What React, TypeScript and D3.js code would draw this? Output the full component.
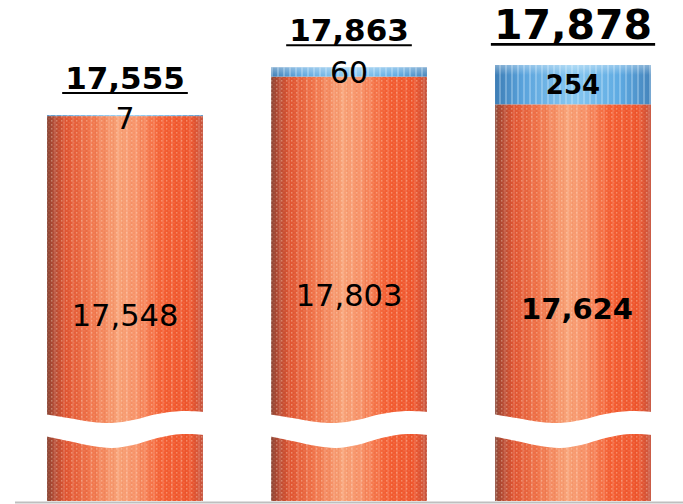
import React from "react";
import * as d3 from "d3";

// ---- data ----
const categories = ["Period 1", "Period 2", "Period 3"];
const baseValues = [17548, 17803, 17624];
const addValues = [7, 60, 254];
const totalValues = [17555, 17863, 17878];

// ---- styling per bar (not data) ----
const totalFontSizes = [31, 31, 41];
const boldSegments = [false, false, true];

const W = 683;
const H = 504;
const BASE_Y = 501;

const fmt = d3.format(",");

// approximate width of DejaVu Sans Bold digits/comma
const textWidth = (s: string, size: number) =>
  s.split("").reduce((a, c) => a + (c === "," ? 0.38 : 0.696) * size, 0);

export default function App() {
  const x = d3
    .scaleBand<string>()
    .domain(categories)
    .range([13, 685])
    .paddingInner(0.304)
    .paddingOuter(0.152);

  const y = d3.scaleLinear().domain([15062, 17878]).range([BASE_Y, 65]);

  const bw = x.bandwidth();

  // wavy break decoration (relative position across the bar)
  const breakT = [0, 0.15, 0.3, 0.42, 0.55, 0.7, 0.85, 1];
  const breakTop = [414, 418, 422, 423, 420, 414, 411, 412];
  const breakBot = [436, 441, 446, 448, 445, 438, 434, 435];

  const breakArea = (x0: number, w: number) =>
    d3
      .area<number>()
      .x((t) => x0 + t * w)
      .y0((_, i) => breakBot[i])
      .y1((_, i) => breakTop[i])
      .curve(d3.curveCatmullRom)(breakT) as string;

  return (
    <svg
      width={W}
      height={H}
      style={{ position: "absolute", left: 0, top: 0, background: "#fff" }}
      fontFamily="'DejaVu Sans', Verdana, sans-serif"
    >
      <defs>
        <linearGradient id="orangeGrad" x1="0" x2="1" y1="0" y2="0">
          <stop offset="0%" stopColor="#8a4636" />
          <stop offset="4%" stopColor="#b04a34" />
          <stop offset="12%" stopColor="#e05532" />
          <stop offset="28%" stopColor="#f0744a" />
          <stop offset="46%" stopColor="#f8a277" />
          <stop offset="58%" stopColor="#f79066" />
          <stop offset="74%" stopColor="#f45e32" />
          <stop offset="92%" stopColor="#ee562e" />
          <stop offset="100%" stopColor="#c6553f" />
        </linearGradient>
        <linearGradient id="blueGrad" x1="0" x2="1" y1="0" y2="0">
          <stop offset="0%" stopColor="#3d7db5" />
          <stop offset="18%" stopColor="#5aa3dc" />
          <stop offset="50%" stopColor="#88c8f0" />
          <stop offset="80%" stopColor="#5eaae2" />
          <stop offset="100%" stopColor="#4584bb" />
        </linearGradient>
        <linearGradient id="topFade" x1="0" x2="0" y1="0" y2="1">
          <stop offset="0%" stopColor="#ffffff" stopOpacity="0.35" />
          <stop offset="100%" stopColor="#ffffff" stopOpacity="0" />
        </linearGradient>
        <pattern id="dots" width="5" height="4" patternUnits="userSpaceOnUse">
          <rect x="1" y="0" width="1.4" height="1.6" fill="#ffe6d2" opacity="0.35" />
          <rect x="3.5" y="2" width="1" height="1.4" fill="#ffd8bc" opacity="0.2" />
        </pattern>
        <pattern id="stripes" width="9" height="6" patternUnits="userSpaceOnUse">
          <rect x="0" y="0" width="2" height="6" fill="#ffffff" opacity="0.1" />
          <rect x="5" y="0" width="1" height="6" fill="#c03010" opacity="0.08" />
        </pattern>
        <pattern id="blueStripes" width="6" height="5" patternUnits="userSpaceOnUse">
          <rect x="1" y="0" width="2" height="5" fill="#e0f2ff" opacity="0.3" />
        </pattern>
      </defs>

      {categories.map((c, i) => {
        const x0 = x(c) as number;
        const totalTop = y(totalValues[i]);
        const baseTop = y(baseValues[i]);
        const segH = baseTop - totalTop;
        const cx = x0 + bw / 2;
        const tSize = totalFontSizes[i];
        const tStr = fmt(totalValues[i]);
        const tw = textWidth(tStr, tSize);
        const tBase = totalTop - 26;
        const bold = boldSegments[i];
        const segCenter = totalTop + Math.max(segH / 2, 3);
        const baseCenter = (baseTop + BASE_Y) / 2 + 6;
        return (
          <g key={c}>
            {/* base (orange) segment */}
            <rect x={x0} y={baseTop} width={bw} height={BASE_Y - baseTop} fill="url(#orangeGrad)" />
            <rect x={x0} y={baseTop} width={bw} height={BASE_Y - baseTop} fill="url(#stripes)" />
            <rect x={x0} y={baseTop} width={bw} height={BASE_Y - baseTop} fill="url(#dots)" />
            {/* added (blue) segment */}
            <rect x={x0} y={totalTop} width={bw} height={segH} fill="url(#blueGrad)" />
            <rect x={x0} y={totalTop} width={bw} height={segH} fill="url(#blueStripes)" />
            <rect x={x0} y={totalTop} width={bw} height={Math.min(10, segH)} fill="url(#topFade)" />
            {/* axis break */}
            <path d={breakArea(x0 - 3, bw + 6)} fill="#ffffff" />
            {/* labels */}
            <text
              x={cx}
              y={tBase}
              textAnchor="middle"
              fontWeight="bold"
              fontSize={tSize}
              fill="#000"
            >
              {tStr}
            </text>
            <line
              x1={cx - tw / 2 - 3}
              x2={cx + tw / 2 + 3}
              y1={tBase + tSize * 0.13}
              y2={tBase + tSize * 0.13}
              stroke="#000"
              strokeWidth={tSize > 35 ? 2.6 : 2}
            />
            <text
              x={cx}
              y={segCenter}
              dy="0.36em"
              textAnchor="middle"
              fontWeight={bold ? "bold" : "normal"}
              fontSize={bold ? 26 : 30}
              fill="#000"
            >
              {fmt(addValues[i])}
            </text>
            <text
              x={cx + (bold ? 4 : 0)}
              y={baseCenter}
              dy="0.36em"
              textAnchor="middle"
              fontWeight={bold ? "bold" : "normal"}
              fontSize={bold ? 29 : 30.5}
              fill="#000"
            >
              {fmt(baseValues[i])}
            </text>
          </g>
        );
      })}
      <line x1={15} x2={W} y1={BASE_Y + 1.5} y2={BASE_Y + 1.5} stroke="#bfbfbf" strokeWidth={2} />
    </svg>
  );
}
